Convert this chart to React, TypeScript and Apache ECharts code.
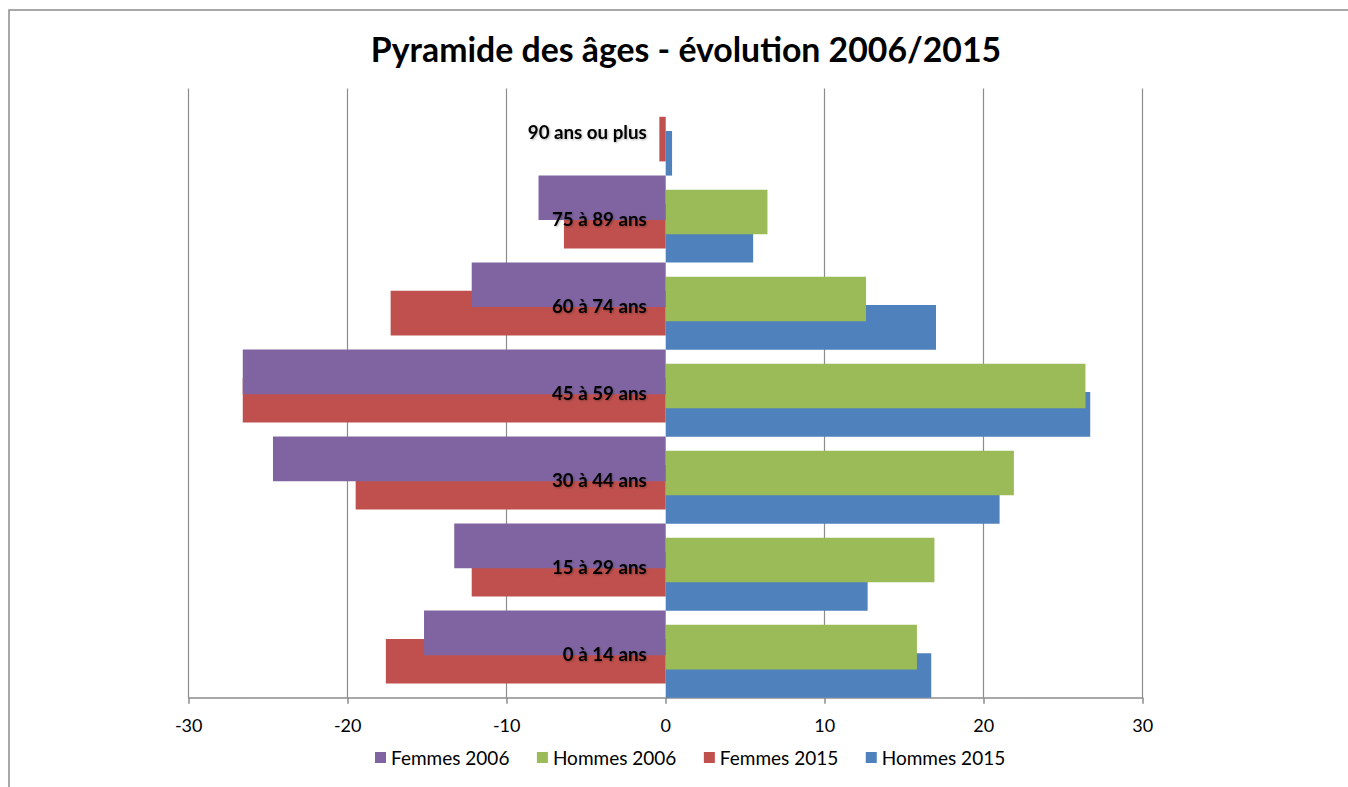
import React, { useEffect, useRef } from "react";
import * as echarts from "echarts";

const categories = [
  "0 à 14 ans",
  "15 à 29 ans",
  "30 à 44 ans",
  "45 à 59 ans",
  "60 à 74 ans",
  "75 à 89 ans",
  "90 ans ou plus",
];
const femmes2006 = [-15.2, -13.3, -24.7, -26.6, -12.2, -8.0, null];
const hommes2006 = [15.8, 16.9, 21.9, 26.4, 12.6, 6.4, null];
const femmes2015 = [-17.6, -12.2, -19.5, -26.6, -17.3, -6.4, -0.4];
const hommes2015 = [16.7, 12.7, 21.0, 26.7, 17.0, 5.5, 0.4];
const xTicks = [-30, -20, -10, 0, 10, 20, 30];
const seriesNames = ["Femmes 2006", "Hommes 2006", "Femmes 2015", "Hommes 2015"];
const seriesColors = ["#8064A2", "#9BBB59", "#C0504D", "#4F81BD"];

const FONT = "Lato, 'Open Sans', sans-serif";

export default function App() {
  const ref = useRef<HTMLDivElement>(null);
  useEffect(() => {
    if (!ref.current) return;
    const chart = echarts.init(ref.current, null, { renderer: "svg" });
    const dataSets = [femmes2006, hommes2006, femmes2015, hommes2015];
    const gridColor = "#8c8c8c";
    const gridLeft = 188.7;
    const gridRight = 205.3;
    const plotWidth = 1348 - gridLeft - gridRight;
    const zeroOffset = plotWidth / 2;
    chart.setOption({
      animation: false,
      backgroundColor: "#ffffff",
      title: {
        text: "Pyramide des âges - évolution 2006/2015",
        left: 681,
        textAlign: "center",
        top: 27,
        textStyle: { fontFamily: FONT, fontWeight: "bold", fontSize: 33.8, color: "#000" },
      },
      graphic: [
        {
          type: "rect",
          silent: true,
          z: -10,
          shape: { x: 9, y: 10, width: 1400, height: 900 },
          style: { fill: "none", stroke: "#8c8c8c", lineWidth: 1.5 },
        },
      ],
      legend: {
        data: seriesNames,
        left: 370,
        top: 743,
        icon: "rect",
        itemWidth: 11,
        itemHeight: 11,
        itemGap: 27.5,
        textStyle: { fontFamily: FONT, fontSize: 19, color: "#000" },
      },
      grid: { left: gridLeft, right: gridRight, top: 88.5, bottom: 89.3, containLabel: false },
      xAxis: {
        type: "value",
        min: xTicks[0],
        max: xTicks[xTicks.length - 1],
        interval: 10,
        axisLine: { show: true, onZero: false, lineStyle: { color: gridColor, width: 1.5 } },
        axisTick: { show: true, length: 6, lineStyle: { color: gridColor, width: 1.5 } },
        axisLabel: { fontFamily: FONT, fontSize: 18, color: "#000", margin: 18 },
        splitLine: {
          show: true,
          lineStyle: {
            color: xTicks.map((t) => (t === 0 ? "rgba(0,0,0,0)" : gridColor)),
            width: 1.2,
          },
        },
      },
      yAxis: {
        type: "category",
        data: categories,
        z: 10,
        position: "left",
        offset: -zeroOffset,
        axisLine: { show: false, onZero: false },
        axisTick: { show: false },
        axisLabel: {
          fontFamily: FONT,
          fontSize: 18.7,
          fontWeight: "bold",
          color: "#000",
          margin: 19,
          textShadowColor: "rgba(0,0,0,0.3)",
          textShadowBlur: 2,
          textShadowOffsetX: 1,
          textShadowOffsetY: 1,
        },
        splitLine: { show: false },
      },
      series: seriesNames.map((name, i) => ({
        name,
        type: "bar",
        data: dataSets[i],
        barWidth: 44.6,
        barGap: "-68.2%",
        z: 5 - i,
        itemStyle: { color: seriesColors[i] },
      })),
    });
    return () => chart.dispose();
  }, []);
  return (
    <div
      ref={ref}
      style={{ position: "fixed", left: 0, top: 0, width: 1348, height: 787 }}
    />
  );
}
